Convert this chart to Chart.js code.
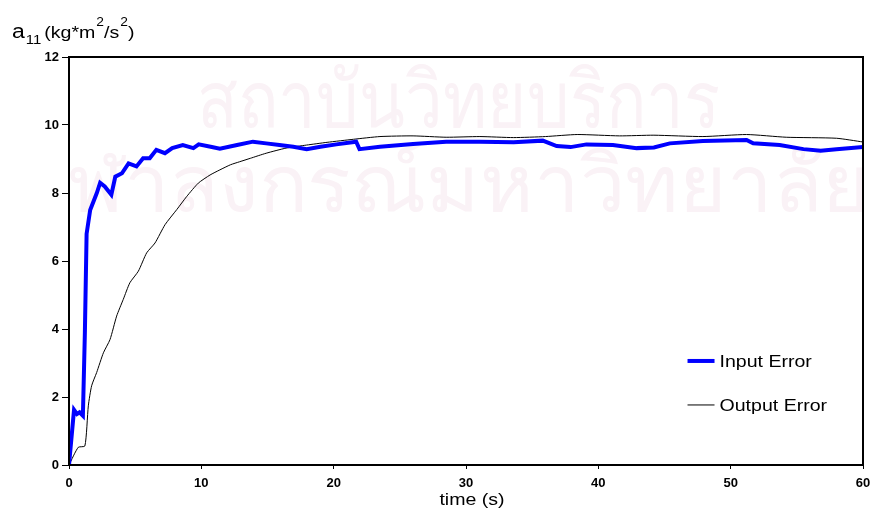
<!DOCTYPE html>
<html>
<head>
<meta charset="utf-8">
<script src="https://cdn.jsdelivr.net/npm/chart.js@4/dist/chart.umd.min.js"></script>
<style>
  body { margin: 0; background: #fff; }
  #wrap { width: 874px; height: 516px; }
</style>
</head>
<body>
<div id="wrap"><canvas id="myChart"></canvas></div>
<script>
// time (s) and a11 values
const inputTime = [0,0.38,0.6,0.8,1.05,1.2,1.33,1.6,2.1,2.35,2.7,3.2,3.5,4.0,4.5,5.1,5.6,6.1,6.6,7.25,7.8,8.6,9.4,9.8,10.7,11.4,12.7,13.9,14.9,15.9,16.95,17.96,19.0,20.2,21.7,21.95,23.5,26.0,28.5,31.05,33.6,35.8,36.85,37.9,39.1,41.1,42.9,44.2,45.4,47.9,51.2,51.7,53.7,55.5,56.8,58.0,60];
const inputValue = [0,1.62,1.5,1.55,1.45,3.9,6.8,7.5,8.0,8.3,8.19,7.95,8.48,8.58,8.87,8.78,9.02,9.02,9.27,9.17,9.32,9.41,9.32,9.43,9.36,9.3,9.41,9.51,9.46,9.41,9.36,9.29,9.36,9.43,9.51,9.29,9.36,9.44,9.51,9.51,9.49,9.54,9.38,9.35,9.43,9.41,9.32,9.34,9.46,9.53,9.56,9.46,9.41,9.29,9.24,9.29,9.35];

const outputTime = [0,0.7,1.2,1.46,1.71,2.09,2.6,3.1,3.6,4.1,4.6,5.24,5.87,6.5,7.26,8.14,8.9,9.77,10.66,11.4,12.2,12.9,13.7,14.9,16.4,17.96,19.5,21.5,23.5,26.0,28.5,31.05,33.6,36,38.4,41.6,44.2,47.9,51.2,54.2,58.0,60];
const outputValue = [0,0.52,0.56,1.74,2.33,2.72,3.3,3.69,4.38,4.87,5.36,5.70,6.24,6.53,7.07,7.51,7.90,8.29,8.53,8.68,8.83,8.92,9.02,9.17,9.32,9.41,9.49,9.58,9.66,9.68,9.64,9.66,9.63,9.66,9.72,9.68,9.7,9.66,9.72,9.64,9.61,9.5];

const seriesNames = ["Input Error", "Output Error"];
const xTicks = [0,10,20,30,40,50,60];
const yTicks = [0,2,4,6,8,10,12];

const ctx = document.getElementById('myChart');
const FONT = "'Liberation Sans', Arial, sans-serif";
const STRETCH = 1.15; // the picture's text is a bit wider than Arial

function pairs(t, v) {
  return t.map((x, i) => ({ x: x, y: v[i] }));
}

// draws wide text, returns its width
function wideText(c, txt, x, y, font) {
  c.font = font;
  c.save();
  c.translate(x, y);
  c.scale(STRETCH, 1);
  c.fillText(txt, 0, 0);
  c.restore();
  return c.measureText(txt).width * STRETCH;
}

const extras = {
  id: 'extras',
  beforeDatasetsDraw(chart) {
    const c = chart.ctx, a = chart.chartArea;
    // pale watermark
    c.save();
    c.beginPath();
    c.rect(a.left, a.top, a.right - a.left, a.bottom - a.top);
    c.clip();
    c.fillStyle = '#faf2f6';
    c.font = "80px 'Noto Sans', 'DejaVu Sans', sans-serif";
    c.textBaseline = 'alphabetic';
    let l1 = 'สถาบันวิทยบริการ';
    let w1 = c.measureText(l1).width;
    c.save();
    c.translate(197, 128);
    c.scale(523 / w1, 1);
    c.fillText(l1, 0, 0);
    c.restore();
    let l2 = 'จุฬาลงกรณ์มหาวิทยาลัย';
    let w2 = c.measureText(l2).width;
    c.save();
    c.translate(20, 212);
    c.scale(850 / w2, 1);
    c.fillText(l2, 0, 0);
    c.restore();
    c.restore();
  },
  afterDraw(chart) {
    const c = chart.ctx, a = chart.chartArea;
    c.save();
    // frame
    c.strokeStyle = '#000';
    c.lineWidth = 2;
    c.strokeRect(a.left, a.top, a.right - a.left, a.bottom - a.top);

    // legend
    const lx = a.left + (a.right - a.left) * 0.779;
    const ly = a.top + (a.bottom - a.top) * 0.745;
    chart.data.datasets.forEach((ds, i) => {
      const y = ly + i * 44;
      c.strokeStyle = ds.borderColor;
      c.lineWidth = ds.borderWidth;
      c.beginPath();
      c.moveTo(lx, y);
      c.lineTo(lx + 27, y);
      c.stroke();
      c.fillStyle = '#000';
      c.textBaseline = 'middle';
      c.textAlign = 'left';
      wideText(c, ds.label, lx + 32, y + 1, '17px ' + FONT);
    });

    // x axis title
    c.textBaseline = 'middle';
    c.textAlign = 'left';
    c.font = '17px ' + FONT;
    const tw = c.measureText('time (s)').width * STRETCH;
    wideText(c, 'time (s)', (a.left + a.right) / 2 + 6 - tw / 2, 500, '17px ' + FONT);

    // y axis title a11 (kg*m2/s2)
    c.textBaseline = 'alphabetic';
    let x = 12;
    x += wideText(c, 'a', x, 38, '20px ' + FONT) + 1;
    x += wideText(c, '11', x, 44, '13px ' + FONT) + 3;
    x += wideText(c, '(kg*m', x, 38, '17px ' + FONT) + 1;
    x += wideText(c, '2', x, 26, '12px ' + FONT);
    x += wideText(c, '/s', x, 38, '17px ' + FONT) + 1;
    x += wideText(c, '2', x, 26, '12px ' + FONT);
    wideText(c, ')', x, 38, '17px ' + FONT);
    c.restore();
  }
};

new Chart(ctx, {
  type: 'line',
  data: {
    datasets: [{
      label: seriesNames[0],
      data: pairs(inputTime, inputValue),
      borderColor: '#0000ff',
      borderWidth: 4,
      pointRadius: 0,
      tension: 0,
      fill: false
    }, {
      label: seriesNames[1],
      data: pairs(outputTime, outputValue),
      borderColor: '#000000',
      borderWidth: 1,
      pointRadius: 0,
      tension: 0.2,
      fill: false
    }]
  },
  options: {
    responsive: true,
    maintainAspectRatio: false,
    animation: false,
    layout: { padding: { left: 0, right: 11, top: 57, bottom: 0 } },
    plugins: {
      legend: { display: false },
      tooltip: { enabled: false }
    },
    scales: {
      x: {
        type: 'linear',
        min: 0, max: 60,
        afterFit: s => { s.height = 51; s.paddingLeft = 0; s.paddingRight = 0; },
        afterBuildTicks: s => { s.ticks = xTicks.map(v => ({ value: v })); },
        grid: { drawOnChartArea: false, tickLength: 4, color: '#000' },
        border: { color: '#000', width: 2 },
        ticks: { color: '#000', font: { family: FONT, size: 13, weight: 'bold' }, padding: 7, maxRotation: 0 }
      },
      y: {
        min: 0, max: 12,
        afterFit: s => { s.width = 69; s.paddingTop = 0; s.paddingBottom = 0; },
        afterBuildTicks: s => { s.ticks = yTicks.map(v => ({ value: v })); },
        grid: { drawOnChartArea: false, tickLength: 7, color: '#000' },
        border: { color: '#000', width: 2 },
        ticks: { color: '#000', font: { family: FONT, size: 13, weight: 'bold' }, padding: 3 }
      }
    }
  },
  plugins: [extras]
});
</script>
</body>
</html>
